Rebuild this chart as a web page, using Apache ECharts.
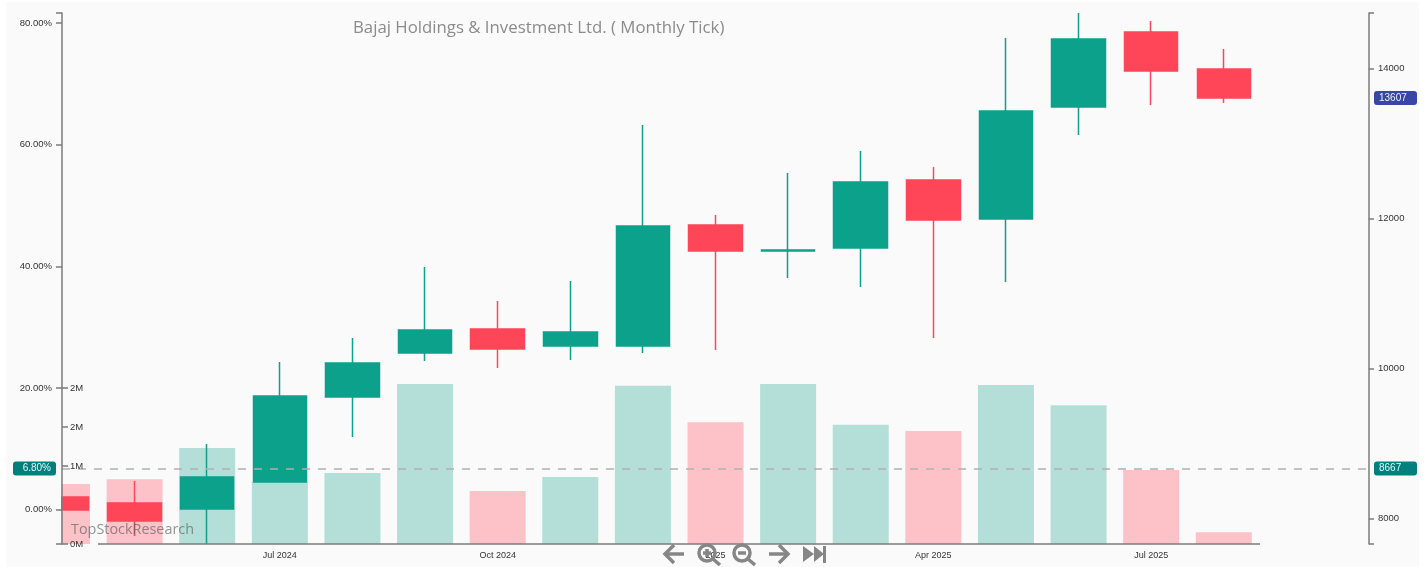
<!DOCTYPE html>
<html>
<head>
<meta charset="utf-8">
<script src="https://cdn.jsdelivr.net/npm/echarts@6/dist/echarts.min.js"></script>
<style>
html, body { margin: 0; padding: 0; background: #fff; }
#main { width: 1426px; height: 567px; }
</style>
</head>
<body>
<div id="main"></div>
<script>
var months = ['Apr 2024', 'May 2024', 'Jun 2024', 'Jul 2024', 'Aug 2024', 'Sep 2024', 'Oct 2024', 'Nov 2024', 'Dec 2024',
    'Jan 2025', 'Feb 2025', 'Mar 2025', 'Apr 2025', 'May 2025', 'Jun 2025', 'Jul 2025', 'Aug 2025', 'Sep 2025', 'Oct 2025'];
// open, close, low, high
var candles = [
    [8287, 8113, 8113, 8287],
    [8207, 7967, 7767, 8500],
    [8127, 8553, 7660, 8993],
    [8487, 9633, 8487, 10087],
    [9620, 10073, 9087, 10407],
    [10207, 10513, 10100, 11353],
    [10527, 10260, 10007, 10900],
    [10300, 10487, 10113, 11167],
    [10300, 11900, 10207, 13247],
    [11913, 11567, 10247, 12047],
    [11567, 11580, 11207, 12607],
    [11607, 12487, 11087, 12900],
    [12513, 11980, 10407, 12687],
    [11993, 13433, 11153, 14407],
    [13487, 14393, 13113, 14740],
    [14487, 13967, 13513, 14633],
    [13993, 13607, 13540, 14260]
];
var volumes = [0.77, 0.83, 1.23, 0.795, 0.91, 2.05, 0.68, 0.86, 2.03, 1.56, 2.05, 1.53, 1.45, 2.04, 1.78, 0.95, 0.15];
var priceTicks = [8000, 10000, 12000, 14000];
var pctTicks = [0, 20, 40, 60, 80];
var volTicks = [0, 1, 1.5, 2];
var priceRange = [7660, 14740];
var pctRange = [-5.607, 81.64];
var volRange = [0, 6.808];
var lastClose = 13607, basePrice = 8667, basePct = '6.80%';

var UP = '#0ca18a', DOWN = '#ff4658', UP_PALE = '#b3dfd8', DOWN_PALE = '#fdc1c8';
var AXIS = '#7b7b7b', ICON = '#868686', BG = '#fafafa';

var chart = echarts.init(document.getElementById('main'));

var volData = volumes.map(function (v, i) {
    var up = candles[i][1] >= candles[i][0];
    return { value: v, itemStyle: { color: up ? UP_PALE : DOWN_PALE } };
});

var stroke = { stroke: ICON, lineWidth: 3.5, fill: null };
function poly(pts) { return { type: 'polyline', z: 20, shape: { points: pts }, style: stroke }; }
function circle(x, y, r) { return { type: 'circle', z: 20, shape: { cx: x, cy: y, r: r }, style: stroke }; }
function tri(pts) { return { type: 'polygon', z: 20, shape: { points: pts }, style: { fill: ICON } }; }
function quarterly(i) { return i % 3 === 0 && i > 0 && i < 17; }
function pill(text, color, pos) {
    return {
        show: true, position: pos, formatter: text, backgroundColor: color, color: '#e8f4f3', borderRadius: 3,
        width: 33, align: pos === 'start' ? 'right' : 'left', padding: [2, 5, 2, 5],
        fontFamily: 'Liberation Sans', fontSize: 10, distance: pos === 'start' ? 6 : 5
    };
}

var option = {
    animation: false,
    backgroundColor: '#fff',
    title: {
        text: 'Bajaj Holdings & Investment Ltd. ( Monthly Tick)',
        left: 348, top: 15,
        textStyle: { fontFamily: 'Open Sans', fontSize: 16.8, fontWeight: 'normal', color: '#8b8b8b' }
    },
    grid: { left: 62, right: 57, top: 13, bottom: 23 },
    xAxis: {
        type: 'category',
        data: months,
        boundaryGap: false,
        axisLine: { show: false },
        axisTick: { length: 6, lineStyle: { color: AXIS, width: 1.5 }, interval: function (i) { return quarterly(i); } },
        axisLabel: {
            fontFamily: 'Liberation Sans', fontSize: 9, color: '#333', margin: 7,
            interval: function (i) { return quarterly(i); },
            // January shows only the year
            formatter: function (v) { return v.indexOf('Jan') === 0 ? v.slice(4) : v; }
        },
        splitLine: { show: false }
    },
    yAxis: [
        {
            type: 'value', position: 'right', min: priceRange[0], max: priceRange[1], z: 6,
            splitLine: { show: false },
            axisLine: { show: true, lineStyle: { color: AXIS, width: 1.5 } },
            axisTick: { show: true, length: 5, lineStyle: { color: AXIS, width: 1.5 }, customValues: priceTicks.concat(priceRange) },
            axisLabel: { fontFamily: 'Liberation Sans', fontSize: 9.5, color: '#333', margin: 9, customValues: priceTicks, formatter: function (v) { return String(v); } }
        },
        {
            type: 'value', position: 'left', min: pctRange[0], max: pctRange[1], z: 6,
            splitLine: { show: false },
            axisLine: { show: true, onZero: false, lineStyle: { color: AXIS, width: 1.5 } },
            axisTick: { show: true, length: 6, lineStyle: { color: AXIS, width: 1.5 }, customValues: pctTicks.concat(pctRange) },
            axisLabel: { fontFamily: 'Liberation Sans', fontSize: 9.5, color: '#333', margin: 10, customValues: pctTicks, formatter: function (v) { return v.toFixed(2) + '%'; } }
        },
        {
            type: 'value', position: 'left', min: volRange[0], max: volRange[1], z: 6,
            splitLine: { show: false },
            axisLine: { show: false },
            axisTick: { show: true, inside: true, length: 6, lineStyle: { color: AXIS, width: 1.5 }, customValues: volTicks },
            axisLabel: { inside: true, fontFamily: 'Liberation Sans', fontSize: 9.5, color: '#333', margin: 8, customValues: volTicks, formatter: function (v) { return Math.round(v) + 'M'; } }
        }
    ],
    series: [
        {
            type: 'bar', name: 'Volume', yAxisIndex: 2, barWidth: 56, z: 1,
            data: volData
        },
        {
            type: 'candlestick', name: 'Price', yAxisIndex: 0, barWidth: 54, z: 3,
            itemStyle: { color: UP, color0: DOWN, borderColor: UP, borderColor0: DOWN, borderWidth: 1.5 },
            data: candles,
            markLine: {
                silent: true, symbol: 'none', animation: false,
                lineStyle: { color: '#b0b0b0', type: [8, 8], width: 1.5 },
                data: [
                    { yAxis: basePrice, label: pill(String(basePrice), '#00807c', 'end') },
                    { yAxis: basePrice, lineStyle: { color: 'transparent' }, label: pill(basePct, '#00807c', 'start') },
                    { yAxis: lastClose, lineStyle: { color: 'transparent' }, label: pill(String(lastClose), '#3a45a8', 'end') }
                ]
            }
        }
    ],
    graphic: [
        { type: 'rect', z: -10, shape: { x: 6, y: 2, width: 1413, height: 565 }, style: { fill: BG } },
        // first month sits on the axis, only its right half shows
        { type: 'rect', z: 5, shape: { x: 28, y: 476, width: 33, height: 68 }, style: { fill: BG } },
        { type: 'line', z: 10, shape: { x1: 98, y1: 544, x2: 1260, y2: 544 }, style: { stroke: AXIS, lineWidth: 1.5 } },
        { type: 'text', z: 20, x: 71, y: 523, style: { text: 'TopStockResearch', fontFamily: 'Open Sans', fontSize: 14.4, fill: 'rgba(90,90,90,0.65)' } },
        poly([[674, 545], [665, 554], [674, 563]]),
        poly([[665, 554], [684, 554]]),
        circle(707, 553, 8),
        poly([[713, 559], [720, 565]]),
        poly([[703, 553], [711, 553]]),
        poly([[707, 549], [707, 557]]),
        circle(742, 553, 8),
        poly([[748, 559], [755, 565]]),
        poly([[738, 553], [746, 553]]),
        poly([[779, 545], [788, 554], [779, 563]]),
        poly([[769, 554], [788, 554]]),
        tri([[803, 546], [814, 554], [803, 562]]),
        tri([[814, 546], [824, 554], [814, 562]]),
        { type: 'rect', z: 20, shape: { x: 823, y: 546, width: 3, height: 17 }, style: { fill: ICON } }
    ]
};

chart.setOption(option);
</script>
</body>
</html>
